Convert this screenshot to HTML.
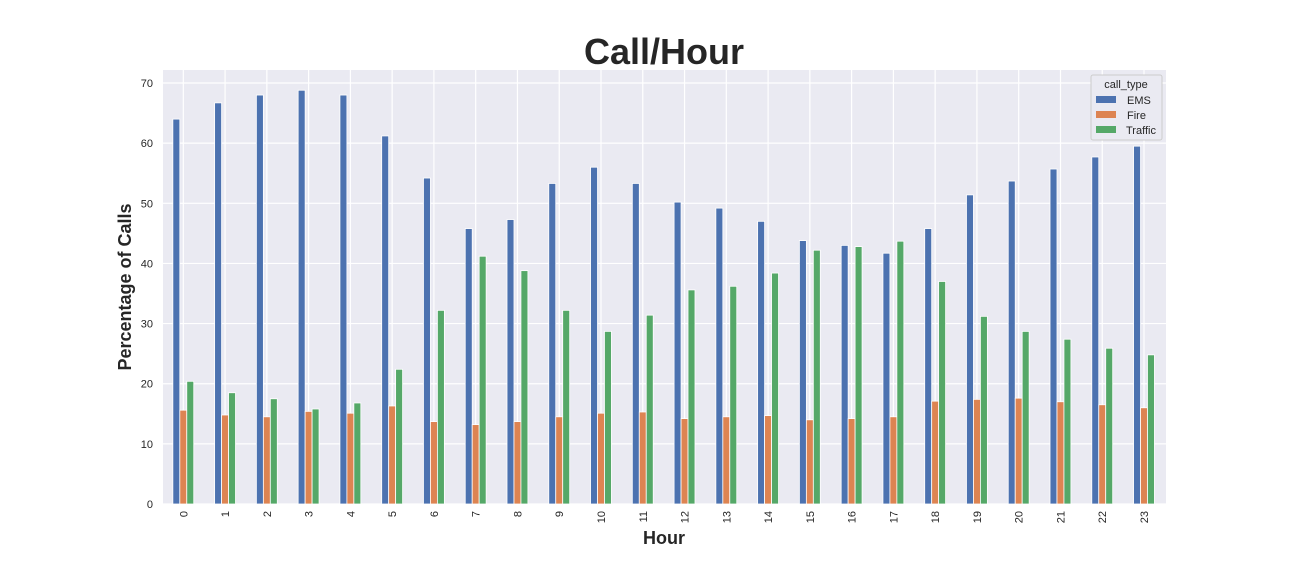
<!DOCTYPE html>
<html><head><meta charset="utf-8"><style>
body{margin:0;background:#fff;font-family:"Liberation Sans",sans-serif}
</style></head><body>
<svg id="chart" width="1296" height="576" xmlns="http://www.w3.org/2000/svg" font-family="Liberation Sans, sans-serif">
<rect x="0" y="0" width="1296" height="576" fill="#fff"/>
<text x="664" y="64" text-anchor="middle" font-size="36" font-weight="bold" fill="#262626">Call/Hour</text>
<rect x="163" y="70" width="1003" height="434" fill="#eaeaf2"/>
<g id="grid"></g>
<g id="bars"></g>
<g id="ticks"></g>
<text transform="translate(131,287) rotate(-90)" text-anchor="middle" font-size="18" font-weight="bold" fill="#262626">Percentage of Calls</text>
<text x="664" y="544" text-anchor="middle" font-size="18" font-weight="bold" fill="#262626">Hour</text>
<g>
<rect x="1091" y="75" width="71" height="65" fill="#eaeaf2" stroke="#ccc" rx="2"/>
<text x="1126" y="88" text-anchor="middle" font-size="11" fill="#262626">call_type</text>
<rect x="1096" y="96" width="20" height="7" fill="#4c72b0"/>
<text x="1127" y="104" font-size="11" fill="#262626">EMS</text>
<rect x="1096" y="111" width="20" height="7" fill="#dd8452"/>
<text x="1127" y="119" font-size="11" fill="#262626">Fire</text>
<rect x="1096" y="126" width="20" height="7" fill="#55a868"/>
<text x="1126" y="134" font-size="11" fill="#262626">Traffic</text>
</g>
</svg>
<script>
const categories=[0,1,2,3,4,5,6,7,8,9,10,11,12,13,14,15,16,17,18,19,20,21,22,23];
const emsValues=[64,66.7,68,68.8,68,61.2,54.2,45.8,47.3,53.3,56,53.3,50.2,49.2,47,43.8,43,41.7,45.8,51.4,53.7,55.7,57.7,59.5];
const fireValues=[15.6,14.8,14.5,15.4,15.1,16.3,13.7,13.2,13.7,14.5,15.1,15.3,14.2,14.5,14.7,14,14.2,14.5,17.1,17.4,17.6,17,16.5,16];
const trafficValues=[20.4,18.5,17.5,15.8,16.8,22.4,32.2,41.2,38.8,32.2,28.7,31.4,35.6,36.2,38.4,42.2,42.8,43.7,37,31.2,28.7,27.4,25.9,24.8];
const yTicks=[0,10,20,30,40,50,60,70];
const NS='http://www.w3.org/2000/svg';
const y=v=>504-v*6.014;
const step=41.77;
const x=i=>183.3+i*step;
const bw=step/6;
const grid=document.getElementById('grid'),bars=document.getElementById('bars'),ticks=document.getElementById('ticks');
function mk(tag,attrs,parent){const e=document.createElementNS(NS,tag);for(const k in attrs)e.setAttribute(k,attrs[k]);parent.appendChild(e);return e;}
yTicks.forEach(t=>{
 const l=mk('line',{x1:163,x2:1166,y1:y(t),y2:y(t),stroke:'#fff','stroke-width':1.2},grid);
 
 
 const tx=mk('text',{x:153,y:y(t)+4,'text-anchor':'end','font-size':11,fill:'#262626'},ticks);
 tx.textContent=t;
 
 
});
categories.forEach((c,i)=>{
 const l=mk('line',{x1:x(i),x2:x(i),y1:70,y2:504,stroke:'#fff','stroke-width':1.2},grid);
 
 
 const tx=mk('text',{transform:`translate(${x(i)+4},511) rotate(-90)`,'text-anchor':'end','font-size':11,fill:'#262626'},ticks);
 tx.textContent=c;
 
 
});
const series=[[emsValues,'#4c72b0','ems'],[fireValues,'#dd8452','fire'],[trafficValues,'#55a868','traffic']];
series.forEach(([vals,col,name],s)=>{
 vals.forEach((v,i)=>{
  const bx=x(i)-1.5*bw+s*bw;
  const r=mk('rect',{x:bx,y:y(v),width:bw,height:y(0)-y(v),fill:col,stroke:'#fff','stroke-width':0.8},bars);
  
  
 });
});
</script>
</body></html>
